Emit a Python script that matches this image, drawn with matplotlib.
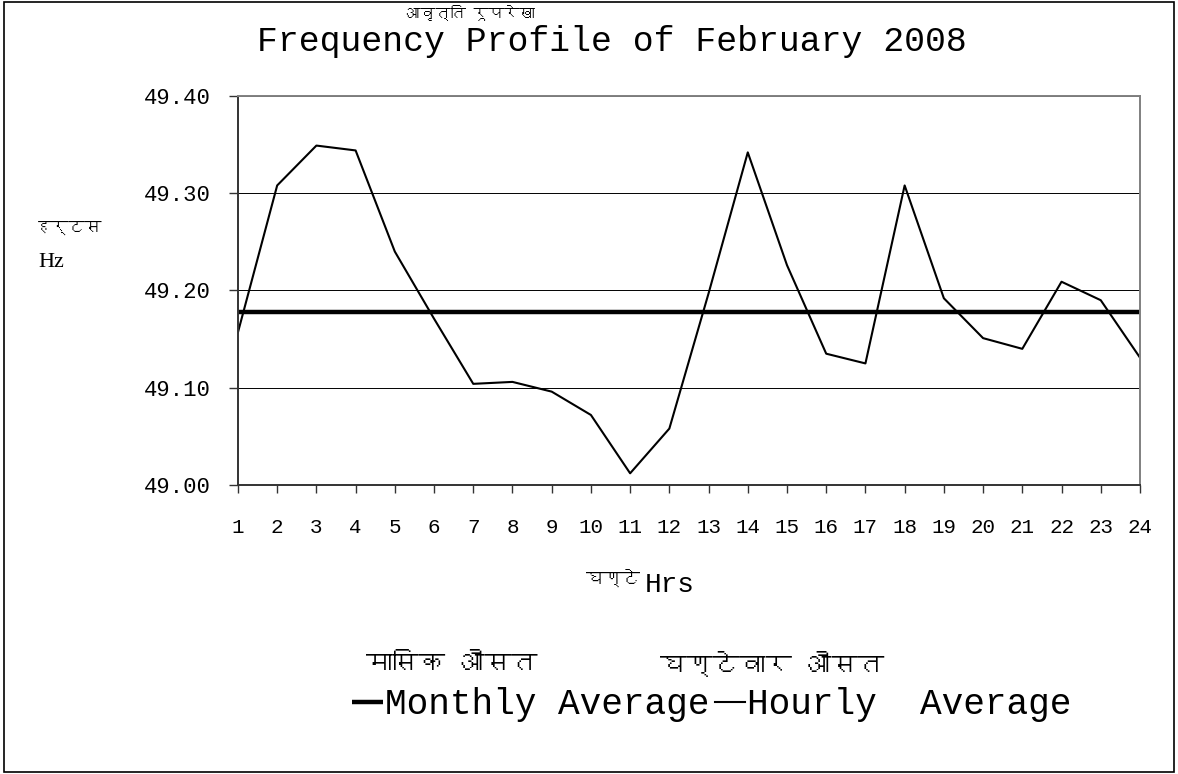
import matplotlib
matplotlib.use("Agg")
import matplotlib.pyplot as plt
from matplotlib import font_manager
from matplotlib.ft2font import FT2Font
from matplotlib.patches import Rectangle

# ---- data ----
hours = list(range(1, 25))
hourly_avg = [49.157, 49.308, 49.349, 49.344, 49.240, 49.171, 49.104, 49.106,
              49.096, 49.072, 49.012, 49.058, 49.197, 49.342, 49.226, 49.135,
              49.125, 49.308, 49.192, 49.151, 49.140, 49.209, 49.190, 49.131]
monthly_avg = [49.178] * 24
y_ticks = [49.00, 49.10, 49.20, 49.30, 49.40]

title_hi = "आवृत्ति रूपरेखा"
title_en = "Frequency Profile of February 2008"
ylabel_hi = "हर्टस"
ylabel_en = "Hz"
xlabel_hi = "घण्टे"
xlabel_en = "Hrs"
legend_hi = ["मासिक औसत", "घण्टेवार औसत"]
legend_en = ["Monthly Average", "Hourly  Average"]


# pick any installed font that has Devanagari glyphs
def find_deva_font():
    for f in font_manager.fontManager.ttflist:
        try:
            if 0x0918 in FT2Font(f.fname).get_charmap():
                return f.name
        except Exception:
            pass
    return "DejaVu Sans"


DEVA = [find_deva_font(), "DejaVu Sans"]
MONO = "Liberation Mono"
SERIF = "Liberation Serif"

fig = plt.figure(figsize=(11.78, 7.74), dpi=100)
fig.patches.append(Rectangle((0.003, 0.002), 0.994, 0.996, transform=fig.transFigure,
                             fill=False, edgecolor="black", linewidth=1.2))

ax = fig.add_axes([0.2020, 0.3734, 0.7657, 0.5026])
ax.plot(hours, monthly_avg, color="black", linewidth=3.2, solid_capstyle="butt")
ax.plot(hours, hourly_avg, color="black", linewidth=1.5)

ax.set_xlim(1, 24)
ax.set_ylim(49.0, 49.4)
ax.set_yticks(y_ticks)
ax.set_yticklabels([f"{v:.2f}" for v in y_ticks], fontfamily=MONO, fontsize=16)
ax.set_xticks(hours)
ax.set_xticklabels([str(h) for h in hours], fontfamily=MONO, fontsize=15)
ax.tick_params(axis="y", direction="out", length=6.5, width=1, pad=13, colors="#333333",
               labelcolor="black")
ax.tick_params(axis="x", direction="out", length=6, width=1, pad=18, colors="#333333",
               labelcolor="black")
ax.grid(axis="y", color="black", linewidth=0.7)
for side in ["top", "right"]:
    ax.spines[side].set_color("#808080")
    ax.spines[side].set_linewidth(1.4)
for side in ["left", "bottom"]:
    ax.spines[side].set_color("#333333")
    ax.spines[side].set_linewidth(1.4)

# titles
fig.text(470 / 1178, 1 - 13 / 774, title_hi, family=DEVA, fontsize=11,
         ha="center", va="center")
fig.text(612 / 1178, 1 - 42 / 774, title_en, family=MONO, fontsize=25,
         ha="center", va="center")

# y label
fig.text(36 / 1178, 1 - 228 / 774, ylabel_hi, family=DEVA, fontsize=12,
         fontweight="bold", ha="left", va="center")
fig.text(38 / 1178, 1 - 262 / 774, ylabel_en, family=SERIF, fontsize=16,
         ha="left", va="center")

# x label
fig.text(640 / 1178, 1 - 578 / 774, xlabel_hi, family=DEVA, fontsize=13,
         fontweight="bold", ha="right", va="center")
fig.text(645 / 1178, 1 - 585 / 774, xlabel_en, family=MONO, fontsize=20,
         ha="left", va="center")

# legend
fig.text(452 / 1178, 1 - 664 / 774, legend_hi[0], family=DEVA, fontsize=19,
         ha="center", va="center")
fig.text(772 / 1178, 1 - 664 / 774, legend_hi[1], family=DEVA, fontsize=19,
         ha="center", va="center")
leg = fig.legend(ax.get_lines(), legend_en, loc="center", ncol=2,
                 bbox_to_anchor=(712 / 1178, 1 - 705 / 774), frameon=False,
                 prop={"family": MONO, "size": 26}, handlelength=0.85,
                 handletextpad=0.05, columnspacing=0.15)

plt.savefig("out.png", dpi=100)
